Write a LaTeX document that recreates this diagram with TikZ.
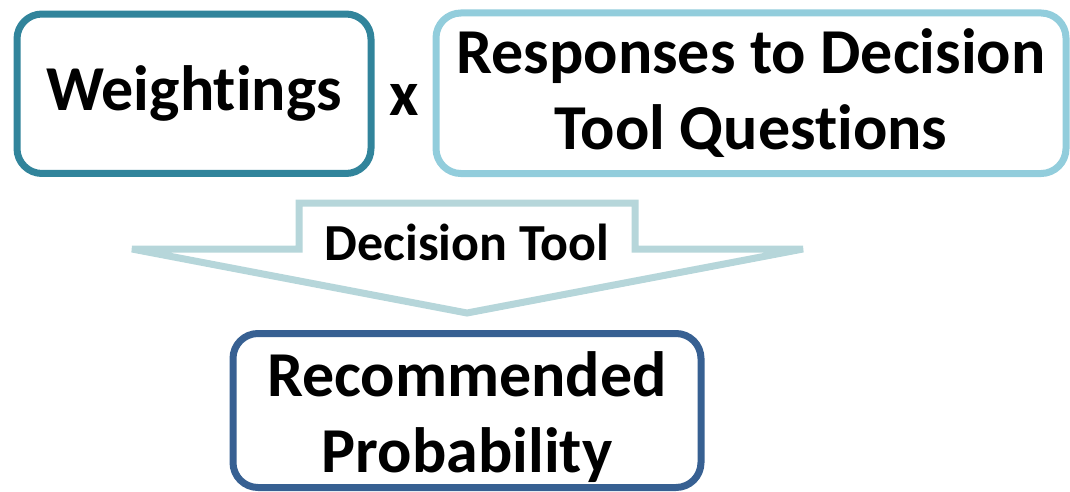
\documentclass[tikz,border=0pt]{standalone}
\usepackage{fontspec}
\setmainfont[Ligatures={NoCommon}]{Carlito}
\definecolor{wcol}{HTML}{31849B}
\definecolor{rcol}{HTML}{92CDDC}
\definecolor{acol}{HTML}{B6D6DA}
\definecolor{pcol}{HTML}{376092}
\tikzset{
  boxfont/.style={font=\fontsize{48}{57}\selectfont\bfseries},
  roundbox/.style={draw, line width=5.25pt, rounded corners=18.75pt, fill=white,
    align=center, inner sep=0pt, boxfont},
  arrowshape/.style={draw=acol, line width=5.25pt, fill=white, line join=miter},
}
\begin{document}
\begin{tikzpicture}[x=0.75pt, y=-0.75pt]
\useasboundingbox (0,0) rectangle (1070,492);
% boxes
\node[roundbox, draw=wcol, minimum width=265.5pt, minimum height=119.6pt] (w) at (194,93.75) {Weight\kern0pt ings};
\node[roundbox, draw=rcol, minimum width=472.5pt, minimum height=120.4pt] (r) at (751,93.25) {Responses to Decision\\Tool Quest\kern0pt ions};
\node[boxfont, inner sep=0pt, anchor=base] (x) at (404.5,115) {x};
% arrow
\coordinate (lt) at (132,249);
\coordinate (rt) at (803,249);
\coordinate (pt) at (467,313);
\draw[arrowshape] (lt) -- (299,249) -- (299,203) -- (635,203) -- (635,249) -- (rt) -- (pt) -- cycle;
\node[font=\fontsize{39}{47}\selectfont\bfseries, inner sep=0pt, anchor=base] (dt) at (467,260) {Decision Tool};
\node[roundbox, draw=pcol, minimum width=351pt, minimum height=115.5pt] (p) at (467,410.5) {\rule{0pt}{44pt}Recommended\\Probability};
\end{tikzpicture}
\end{document}
